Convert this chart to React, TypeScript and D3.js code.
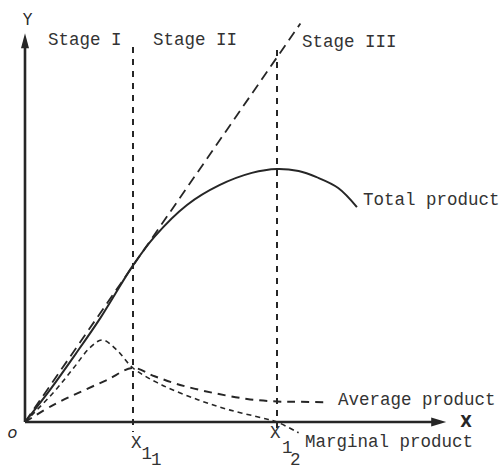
import React from 'react';
import * as d3 from 'd3';

const W = 499;
const H = 471;

// stage boundaries on the input axis
const stageBounds = [3, 7];
const stageSubs = ['1', '2'];
const boundTop = [10.42, 10.33];
const stageNames = ['Stage I', 'Stage II', 'Stage III'];

// total product
const tpX = [0, 0.7, 1.4, 2.1, 3, 3.6, 4.5, 5.4, 6.3, 7, 7.6, 8.1, 8.7, 9.22];
const tpY = [0, 0.9, 1.88, 2.9, 4.35, 5.15, 6.03, 6.58, 6.92, 7.03, 6.97, 6.8, 6.5, 5.97];

// average product
const apX = [0, 0.78, 1.53, 2.28, 3, 3.6, 4.31, 5.22, 6.17, 7, 7.64, 8.45];
const apY = [0, 0.47, 0.83, 1.17, 1.5, 1.27, 1.03, 0.81, 0.64, 0.57, 0.56, 0.55];

// marginal product
const mpX = [0, 0.8, 1.35, 1.8, 2.15, 2.55, 3, 3.8, 4.8, 5.7, 6.6, 7, 7.6];
const mpY = [0, 0.83, 1.5, 2.06, 2.28, 2.0, 1.5, 1.03, 0.62, 0.33, 0.11, 0, -0.3];

// ray from the origin, tangent to total product at X1
const rayX = [0, 7.65];
const rayY = [0, 11.07];

const ink = '#262626';
const mono = "'Liberation Mono', 'Courier New', monospace";

export default function App() {
  const x = d3.scaleLinear().domain([0, 11.7]).range([25, 446.2]);
  const y = d3.scaleLinear().domain([0, 10.8]).range([422, 33.2]);

  const line = d3
    .line<[number, number]>()
    .x(d => x(d[0]))
    .y(d => y(d[1]))
    .curve(d3.curveCatmullRom.alpha(0.5));
  const straight = d3
    .line<[number, number]>()
    .x(d => x(d[0]))
    .y(d => y(d[1]));

  const zip = (a: number[], b: number[]) => a.map((v, i) => [v, b[i]] as [number, number]);

  const x0 = x(0);
  const y0 = y(0);
  const xEnd = x(11.7);
  const yEnd = y(10.8);

  return (
    <svg width={W} height={H} style={{ position: 'absolute', left: 0, top: 0, background: '#fff' }}>
      {/* stage boundaries */}
      {stageBounds.map((b, i) => (
        <line
          key={b}
          x1={x(b)}
          x2={x(b)}
          y1={y(boundTop[i])}
          y2={y(-0.28)}
          stroke={ink}
          strokeWidth={2}
          strokeDasharray="6 6"
        />
      ))}

      {/* tangent ray */}
      <path d={straight(zip(rayX, rayY)) || ''} fill="none" stroke={ink} strokeWidth={1.8} strokeDasharray="10 6" />

      <path d={line(zip(tpX, tpY)) || ''} fill="none" stroke={ink} strokeWidth={2} />
      <path d={line(zip(apX, apY)) || ''} fill="none" stroke={ink} strokeWidth={2} strokeDasharray="8 6" />
      <path d={line(zip(mpX, mpY)) || ''} fill="none" stroke={ink} strokeWidth={1.6} strokeDasharray="5 4" />

      {/* axes */}
      <line x1={x0} x2={xEnd - 10} y1={y0} y2={y0} stroke={ink} strokeWidth={2.6} />
      <line x1={x0} x2={x0} y1={y0} y2={yEnd + 10} stroke={ink} strokeWidth={2.6} />
      <path d={`M${xEnd},${y0} L${xEnd - 15},${y0 - 4.5} L${xEnd - 15},${y0 + 4.5} Z`} fill={ink} />
      <path d={`M${x0},${yEnd} L${x0 - 4},${yEnd + 15} L${x0 + 4},${yEnd + 15} Z`} fill={ink} />

      <text x={x0 + 2.5} y={25} textAnchor="middle" fontFamily="'DejaVu Sans', sans-serif" fontSize={15} fill={ink}>Y</text>
      <text x={466} y={427} textAnchor="middle" fontFamily="'DejaVu Sans', sans-serif" fontSize={15} fontWeight="bold" fill={ink}>X</text>
      <text x={12.5} y={438} textAnchor="middle" fontFamily="'DejaVu Sans', sans-serif" fontStyle="italic" fontSize={16} fill={ink}>o</text>

      <g fontFamily={mono} fontSize={17.5} fill="#333">
        <text x={48} y={45}>{stageNames[0]}</text>
        <text x={153} y={45}>{stageNames[1]}</text>
        <text x={302} y={47}>{stageNames[2]}</text>
        <text x={363} y={205}>Total product</text>
        <text x={338} y={405}>Average product</text>
        <text x={305} y={447}>Marginal product</text>

        <text x={x(stageBounds[0]) - 2} y={448}>X</text>
        <text x={x(stageBounds[0]) + 8.5} y={459}>1</text>
        <text x={x(stageBounds[0]) + 18} y={465}>{stageSubs[0]}</text>

        <text x={x(stageBounds[1]) - 7} y={438}>X</text>
        <text x={x(stageBounds[1]) + 5} y={453}>1</text>
        <text x={x(stageBounds[1]) + 13} y={465}>{stageSubs[1]}</text>
      </g>
    </svg>
  );
}
